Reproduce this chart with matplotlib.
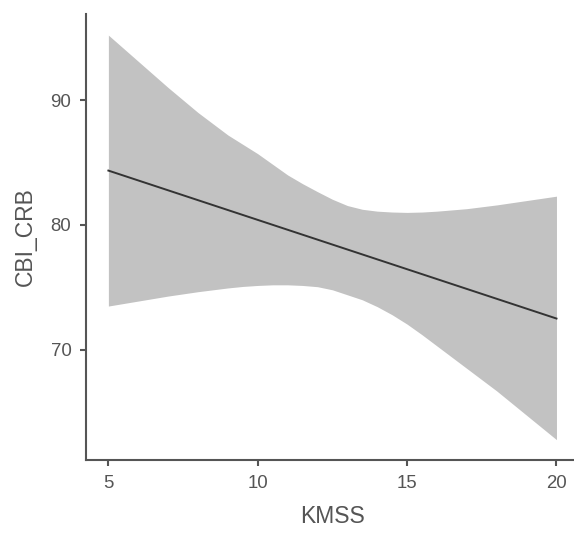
import numpy as np
import matplotlib
matplotlib.use('Agg')
import matplotlib.pyplot as plt

# Recta de regresion (extremos)
kmss_fit = [5, 20]
cbi_fit = [84.35, 72.5]

# Banda de confianza
kmss_band = [5, 6, 7, 8, 9, 9.5, 10, 10.5, 11, 11.5, 12, 12.5, 13, 13.5, 14,
             14.5, 15, 15.5, 16, 16.5, 17, 18, 19, 20]
band_upper = [95.2, 93.1, 91.0, 89.0, 87.2, 86.45, 85.7, 84.85, 84.0, 83.3,
              82.66, 82.05, 81.55, 81.25, 81.1, 81.03, 81.0, 81.03, 81.1, 81.2,
              81.3, 81.6, 81.95, 82.3]
band_lower = [73.5, 73.9, 74.3, 74.65, 74.95, 75.07, 75.15, 75.2, 75.2, 75.15,
              75.05, 74.8, 74.4, 74.0, 73.45, 72.8, 72.05, 71.2, 70.3, 69.4,
              68.5, 66.7, 64.75, 62.8]

x_ticks = [5, 10, 15, 20]
y_ticks = [70, 80, 90]

plt.rcParams['font.family'] = ['Liberation Sans', 'DejaVu Sans']

fig = plt.figure(figsize=(5.74, 5.37), dpi=100)
ax = fig.add_axes([0.1498, 0.1434, 0.8587, 0.8305])

ax.fill_between(kmss_band, band_lower, band_upper, color='#c2c2c2', linewidth=0)
ax.plot(kmss_fit, cbi_fit, color='#333333', linewidth=1.4)

ax.set_xlim(4.25, 20.75)
ax.set_ylim(61.17, 96.89)
ax.set_xticks(x_ticks)
ax.set_yticks(y_ticks)

for side in ['top', 'right']:
    ax.spines[side].set_visible(False)
for side in ['left', 'bottom']:
    ax.spines[side].set_color('#555555')
    ax.spines[side].set_linewidth(1.5)

ax.tick_params(axis='both', direction='out', length=4, width=1.5,
               color='#555555', labelcolor='#555555', labelsize=13.4, pad=6.5)

ax.set_xlabel('KMSS', fontsize=16.5, color='#555555', labelpad=10)
ax.set_ylabel('CBI_CRB', fontsize=16.5, color='#555555', labelpad=10)

fig.savefig('out.png', dpi=100)
